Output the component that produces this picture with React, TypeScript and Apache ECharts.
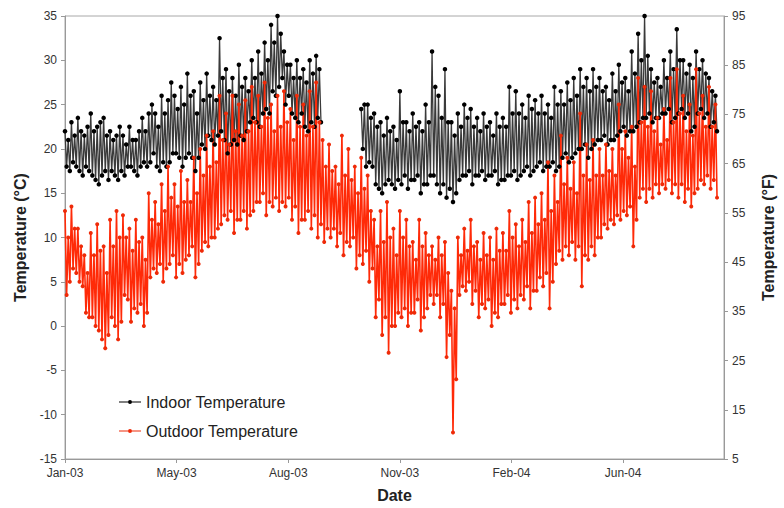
import React, { useEffect, useRef } from "react";
import * as echarts from "echarts";

// x tick labels (one every 104 days starting at day 0)
const tickLabels = ["Jan-03", "May-03", "Aug-03", "Nov-03", "Feb-04", "Jun-04"];
const tickDays = 104;
const stepDays = 1.5;

// Indoor temperature (°C), one reading every 1.5 days, null = missing
const indoorValues: (number | null)[] = [
  22, 18, 21, 17.5, 23, 18.5, 21.5, 18, 23.5, 17.5, 22, 17, 21.5, 18, 22.5, 17.5,
  24, 17, 22, 16.5, 22.5, 16, 23, 17, 23.5, 17.5, 21.5, 16.5, 22, 17.5, 21, 17,
  21.5, 16.5, 22.5, 17.5, 21.5, 17, 20.5, 18, 22.5, 18, 21, 17.5, 21, 17, 22, 18,
  23.5, 18.5, 22, 18, 24, 18.5, 25, 19.5, 24, 18, 22.5, 17.5, 26, 18.5, 24, 18,
  25.5, 18.5, 27.5, 19.5, 26, 19.5, 24.5, 19, 27, 18, 25, 19, 28.5, 19.5, 26, 19,
  26.5, 17.5, 24, 19, 27.5, 20.5, 25.5, 20, 28.5, 21.5, 26, 21, 27, 20.5, 25.5, 21.5,
  32.5, 22, 28, 21, 29, 19.5, 26.5, 20.5, 28, 21, 26, 20.5, 29.5, 21.5, 27, 21,
  28, 22, 26.5, 23, 30, 23.5, 28, 23, 31, 22.5, 28.5, 24, 32, 24.5, 30, 24,
  34, 26.5, 32, 26, 35, 27, 33, 28, 31, 25, 29.5, 26, 29.5, 24, 28, 23.5,
  30, 23, 28, 24, 29, 22.5, 27.5, 22, 30, 23, 28.5, 22.5, 30.5, 23.5, 29, 23,
  null, null, null, null, null, null, null, null, null, null, null, null,
  null, null, null, null, null, null, null, null, null, null, null, null,
  24.5, 20, 25, 18, 25, 18.5, 23.5, 18, 24, 16, 22.5, 15.5, 23, 15, 21.5, 16,
  23.5, 16.5, 22, 16, 22.5, 15.5, 21, 16.5, 26.5, 16, 23, 17, 23, 15.5, 22, 16.5,
  24, 16.5, 22.5, 17, 23, 15, 22, 16, 25, 16, 23, 17, 31, 17, 27, 16,
  26, 15, 23.5, 16, 29, 14.5, 23, 15.5, 23, 14, 21.5, 15, 24, 16.5, 22.5, 17,
  25, 17, 23.5, 17.5, 24.5, 16, 22.5, 17, 23.5, 17, 22, 17.5, 24, 16.5, 22.5, 17,
  23, 17, 21.5, 17.5, 24, 16, 22.5, 16.5, 23.5, 16.5, 22.5, 17, 27, 17, 24, 17.5,
  26.5, 16.5, 24, 17, 25, 17.5, 23.5, 18, 26, 17, 24.5, 17.5, 25.5, 18, 24, 18.5,
  26, 17.5, 24, 18, 25, 18, 23.5, 18.5, 27, 17.5, 25, 18, 26.5, 19, 25, 19.5,
  27.5, 18.5, 25.5, 19, 28, 19.5, 26, 20, 29, 20, 27, 20.5, 28, 19, 26.5, 20,
  29, 20.5, 27, 21, 28, 21, 26.5, 21.5, 27, 20.5, 25.5, 21, 28.5, 21, 26.5, 21.5,
  29.5, 22, 27.5, 22.5, 28, 21.5, 26.5, 22, 31, 22, 28.5, 22.5, 33, 23, 30, 23.5,
  35, 23.5, 30.5, 24, 29, 23, 27.5, 23.5, 28, 23.5, 27, 24, 30, 24, 28, 24.5,
  31, 23, 29, 23.5, 33.5, 24, 30, 24.5, 30, 23.5, 28.5, 24, 29.5, 22, 28, 22.5,
  31, 24, 29, 24.5, 30, 23.5, 28.5, 24, 28, 22.5, 26.5, 23, 26, 22,
];

// Outdoor temperature (°C), one reading every 1.5 days
const outdoorValues: number[] = [
  13, 3.5, 10, 5, 13.5, 6.5, 11, 6, 11, 5, 9, 4.5, 8, 1.5, 6, 1,
  10.5, 1, 8, 0, 11.5, -0.5, 8.5, -1.5, 9, -2.5, 6, -1, 12, 1, 9, 0,
  13, -1.5, 10, 0.5, 12.5, 3.5, 10, 3, 11, 0.5, 8.5, 2, 12, 1.5, 9.5, 2.5,
  10, 0, 7.5, 1.5, 15, 5.5, 12, 6.5, 14, 6, 11.5, 7, 16, 5, 13, 6.5,
  18, 7, 14.5, 8, 16, 5.5, 13.5, 7, 17.5, 6, 14, 7.5, 16.5, 8, 14, 9,
  19, 5.5, 15, 7, 20, 8.5, 17, 9.5, 21.5, 9, 18, 10, 22, 10, 18.5, 11,
  26, 11.5, 21, 12.5, 24, 12, 20.5, 13, 26, 10.5, 22, 12, 25, 12, 21.5, 13,
  25.5, 11, 22, 12.5, 27, 13, 23, 14, 26, 14, 22.5, 15, 27.5, 12.5, 23.5, 14,
  25, 13.5, 22, 14.5, 26, 13, 22.5, 14, 26.5, 13.5, 23, 14.5, 24.5, 12, 21, 13.5,
  26, 10.5, 22.5, 12, 25, 12, 21.5, 13, 26.5, 11, 22.5, 12.5, 27.5, 10, 23, 11.5,
  21, 9.5, 18, 11, 20.5, 10, 17.5, 11, 18, 9, 16, 10.5, 21.5, 8, 17, 9.5,
  20, 9, 16.5, 10, 18, 6.5, 15, 8, 19, 7, 15.5, 8.5, 17, 5, 13, 6.5,
  12, 1, 9, 3, 13, -1, 9.5, 1, 14, -3, 10, 0, 11, 0, 8, 1.5,
  13, 1, 10, 2, 12, 0, 9, 1.5, 9.5, 1.5, 7.5, 3, 12, -0.5, 9, 1,
  10.5, 2, 8, 3.5, 9, 2.5, 7.5, 3.5, 10, 1, 8, 2.5, 9.5, -3.5, 6, -1,
  4, -12, 2, -6, 10, 3.5, 8, 4.5, 11, 4, 8.5, 5, 12, 2.5, 9, 4,
  9.5, 1, 7.5, 2.5, 10.5, 2, 8, 3, 10, 0, 7.5, 1.5, 11, 1, 8.5, 2.5,
  10.5, 2.5, 8.5, 3.5, 13, 1.5, 10, 3, 11.5, 2, 9, 3.5, 12, 3, 9.5, 4.5,
  14, 2, 10.5, 4, 14.5, 4, 11.5, 5.5, 15, 4.5, 12, 6, 18.5, 2, 13, 5,
  17, 7, 14, 8.5, 21.5, 7.5, 16, 9, 19, 8, 15.5, 9.5, 18.5, 7.5, 15, 9,
  24, 4.5, 17, 8, 20.5, 7.5, 16.5, 9, 21, 8, 17, 10, 20, 10, 17, 11.5,
  20.5, 11, 17.5, 12, 20, 11.5, 17, 12.5, 25, 12, 20, 13, 22, 12.5, 19, 13.5,
  22.5, 9, 18, 12, 28, 14.5, 23, 15.5, 27, 14, 22.5, 15.5, 26.5, 14.5, 22, 16,
  23.5, 15, 20.5, 16, 24.5, 15.5, 21, 16.5, 28, 15, 23, 16, 29, 14.5, 24, 16,
  26, 14, 22, 15.5, 25, 13.5, 21.5, 15, 29, 15.5, 24, 16.5, 26, 16, 22.5, 17,
  27, 15.5, 22.5, 16.5, 25, 14.5,
];

const indoorData = indoorValues.map((v, i) => [i * stepDays, v]);
const outdoorData = outdoorValues.map((v, i) => [i * stepDays, v]);

const FONT = "'Liberation Sans', Arial, sans-serif";
const LEGEND_ICON = "path://M0,4.5h22v1h-22z M11,3a2,2 0 1,1 0,4a2,2 0 1,1 0,-4z";

export default function App() {
  const ref = useRef<HTMLDivElement>(null);
  useEffect(() => {
    if (!ref.current) return;
    const chart = echarts.init(ref.current, null, { renderer: "svg" });
    chart.setOption({
      animation: false,
      backgroundColor: "#ffffff",
      textStyle: { fontFamily: FONT },
      grid: {
        left: 65,
        right: 54,
        top: 16,
        bottom: 45,
        show: true,
        borderColor: "#a8a8a8",
        borderWidth: 1,
      },
      legend: {
        left: 114,
        top: 389,
        orient: "vertical",
        itemWidth: 22,
        itemHeight: 10,
        itemGap: 13,
        textStyle: { fontFamily: FONT, fontSize: 16, color: "#222" },
        data: [
          { name: "Indoor Temperature", icon: LEGEND_ICON },
          { name: "Outdoor Temperature", icon: LEGEND_ICON },
        ],
      },
      xAxis: {
        type: "value",
        min: 0,
        max: 614,
        interval: tickDays,
        name: "Date",
        nameLocation: "middle",
        nameGap: 28,
        nameTextStyle: { fontFamily: FONT, fontSize: 16, fontWeight: "bold", color: "#222" },
        axisLine: { show: true, onZero: false, lineStyle: { color: "#999" } },
        axisTick: { show: true, length: 4, lineStyle: { color: "#999" } },
        splitLine: { show: false },
        axisLabel: {
          showMaxLabel: false,
          margin: 8,
          fontFamily: FONT,
          fontSize: 12,
          color: "#333",
          formatter: (v: number) => tickLabels[Math.round(v / tickDays)] ?? "",
        },
      },
      yAxis: [
        {
          type: "value",
          min: -15,
          max: 35,
          interval: 5,
          name: "Temperature (°C)",
          nameLocation: "middle",
          nameGap: 35,
          nameRotate: 90,
          nameTextStyle: { fontFamily: FONT, fontSize: 16, fontWeight: "bold", color: "#222" },
          axisLine: { show: true, lineStyle: { color: "#999" } },
          axisTick: { show: true, length: 4, lineStyle: { color: "#999" } },
          splitLine: { show: false },
          axisLabel: { margin: 8, fontFamily: FONT, fontSize: 12, color: "#333" },
        },
        {
          type: "value",
          position: "right",
          min: 5,
          max: 95,
          interval: 10,
          name: "Temperature (°F)",
          nameLocation: "middle",
          nameGap: 36,
          nameRotate: 90,
          nameTextStyle: { fontFamily: FONT, fontSize: 16, fontWeight: "bold", color: "#222" },
          axisLine: { show: true, lineStyle: { color: "#999" } },
          axisTick: { show: true, length: 4, lineStyle: { color: "#999" } },
          splitLine: { show: false },
          axisLabel: { margin: 8, fontFamily: FONT, fontSize: 12, color: "#333" },
        },
      ],
      series: [
        {
          name: "Indoor Temperature",
          type: "line",
          data: indoorData,
          yAxisIndex: 0,
          connectNulls: false,
          symbol: "circle",
          symbolSize: 4.5,
          showAllSymbol: true,
          lineStyle: { color: "#3a3a3a", width: 1.3 },
          itemStyle: { color: "#000000", borderWidth: 0 },
        },
        {
          name: "Outdoor Temperature",
          type: "line",
          data: outdoorData,
          yAxisIndex: 0,
          symbol: "circle",
          symbolSize: 4,
          showAllSymbol: true,
          lineStyle: { color: "#ff2a08", width: 1.6 },
          itemStyle: { color: "#ee2a08", borderWidth: 0 },
        },
      ],
    });
    return () => chart.dispose();
  }, []);
  return (
    <div
      ref={ref}
      style={{ position: "absolute", left: 0, top: 0, width: 784, height: 508 }}
    />
  );
}
